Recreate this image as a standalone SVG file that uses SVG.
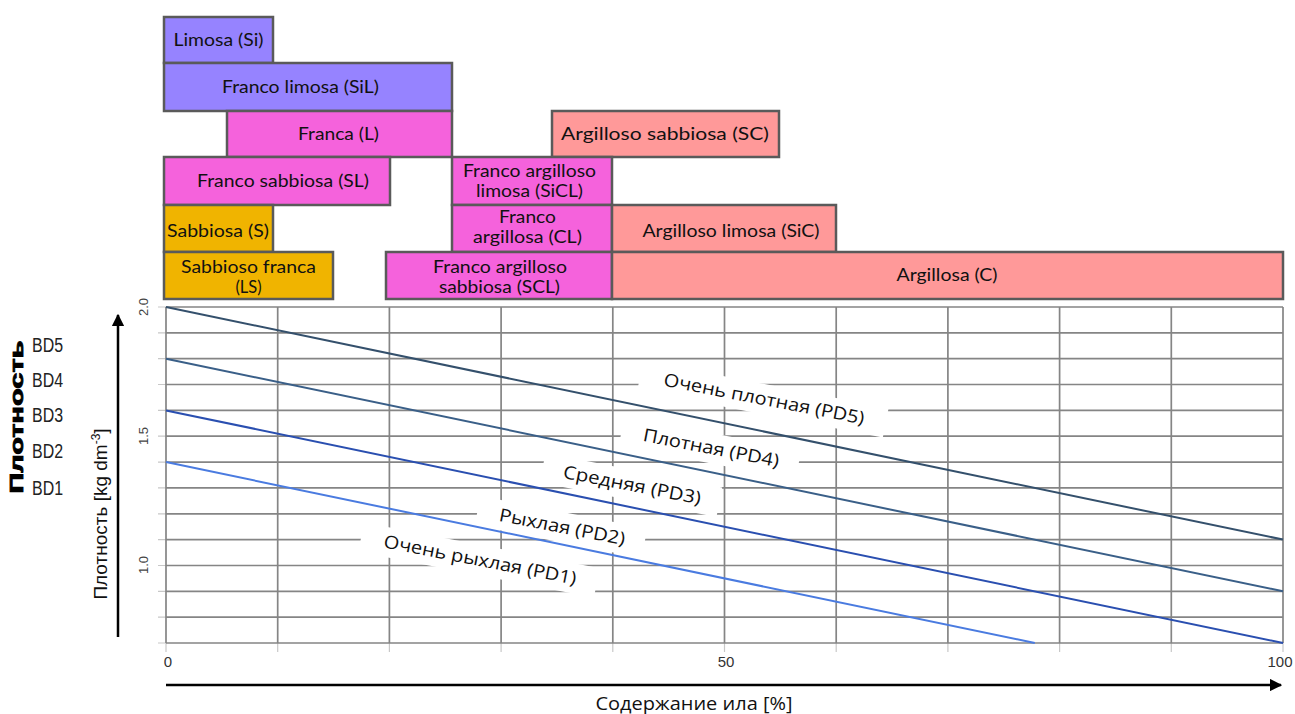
<svg xmlns="http://www.w3.org/2000/svg" width="1295" height="714" viewBox="0 0 1295 714">
<defs>
<style>
.box{stroke:#5a5a5a;stroke-width:2.5}
.si{fill:#9683ff}
.pk{fill:#f562dc}
.or{fill:#f0b400}
.cl{fill:#ff9999}
.bt{font-family:Lato,"Open Sans","Liberation Sans",sans-serif;font-size:17.5px;fill:#111;text-anchor:middle}
.bt2{font-family:Lato,"Open Sans","Liberation Sans",sans-serif;font-size:16.5px;fill:#111;text-anchor:middle}
.grid{stroke:#858585;stroke-width:1.7;fill:none}
.tick{stroke:#c8c8c8;stroke-width:1.2}
.lbl{font-family:"Open Sans","Liberation Sans",sans-serif;font-size:18px;fill:#111;text-anchor:middle}
.num{font-family:"Liberation Sans",Arial,sans-serif;font-size:13px;fill:#444;text-anchor:middle}
.xnum{font-family:"Liberation Sans",Arial,sans-serif;font-size:15px;fill:#333;text-anchor:middle}
.bd{font-family:"Liberation Sans",Arial,sans-serif;font-size:20px;fill:#222}
.ax{stroke:#000;stroke-width:2.5;fill:none}
</style>
<marker id="arr" viewBox="0 0 10 10" refX="9" refY="5" markerWidth="5" markerHeight="5" markerUnits="strokeWidth" orient="auto">
<path d="M0,0 L10,5 L0,10 Z" fill="#000"/>
</marker>
</defs>
<rect width="1295" height="714" fill="#fff"/>

<!-- texture boxes -->
<g id="Si"><rect class="box si" x="164" y="17" width="109" height="46"/><text class="bt" x="218.5" y="46" textLength="90" lengthAdjust="spacingAndGlyphs">Limosa (Si)</text></g>
<g id="SiL"><rect class="box si" x="164" y="63" width="288" height="48"/><text class="bt" x="300.5" y="93" textLength="157" lengthAdjust="spacingAndGlyphs">Franco limosa (SiL)</text></g>
<g id="L"><rect class="box pk" x="227" y="111" width="225" height="46"/><text class="bt" x="338.5" y="140" textLength="81" lengthAdjust="spacingAndGlyphs">Franca (L)</text></g>
<g id="SC"><rect class="box cl" x="552" y="111" width="227" height="46"/><text class="bt" x="665" y="140" textLength="208" lengthAdjust="spacingAndGlyphs">Argilloso sabbiosa (SC)</text></g>
<g id="SL"><rect class="box pk" x="164" y="157" width="226" height="48"/><text class="bt" x="283" y="187" textLength="172" lengthAdjust="spacingAndGlyphs">Franco sabbiosa (SL)</text></g>
<g id="SiCL"><rect class="box pk" x="452" y="157" width="160" height="48"/><text class="bt2" x="529.5" y="177" textLength="133" lengthAdjust="spacingAndGlyphs">Franco argilloso</text><text class="bt2" x="529.5" y="197" textLength="107" lengthAdjust="spacingAndGlyphs">limosa (SiCL)</text></g>
<g id="S"><rect class="box or" x="164" y="205" width="109" height="47"/><text class="bt" x="218" y="237" textLength="102" lengthAdjust="spacingAndGlyphs">Sabbiosa (S)</text></g>
<g id="CL"><rect class="box pk" x="452" y="205" width="160" height="47"/><text class="bt2" x="527.5" y="223" textLength="57" lengthAdjust="spacingAndGlyphs">Franco</text><text class="bt2" x="527.5" y="243" textLength="109" lengthAdjust="spacingAndGlyphs">argillosa (CL)</text></g>
<g id="SiC"><rect class="box cl" x="612" y="205" width="224" height="47"/><text class="bt" x="731" y="237" textLength="177" lengthAdjust="spacingAndGlyphs">Argilloso limosa (SiC)</text></g>
<g id="LS"><rect class="box or" x="164" y="252" width="169" height="47"/><text class="bt2" x="248.5" y="273" textLength="135" lengthAdjust="spacingAndGlyphs">Sabbioso franca</text><text class="bt2" x="248.5" y="293">(LS)</text></g>
<g id="SCL"><rect class="box pk" x="386" y="252" width="226" height="47"/><text class="bt2" x="500" y="273" textLength="134" lengthAdjust="spacingAndGlyphs">Franco argilloso</text><text class="bt2" x="499.5" y="293" textLength="121" lengthAdjust="spacingAndGlyphs">sabbiosa (SCL)</text></g>
<g id="C"><rect class="box cl" x="612" y="252" width="671" height="47"/><text class="bt" x="947" y="281" textLength="101" lengthAdjust="spacingAndGlyphs">Argillosa (C)</text></g>

<!-- grid -->
<g id="grid">
<g class="tick">
<path d="M158,307H166M158,332.8H166M158,358.7H166M158,384.5H166M158,410.4H166M158,436.2H166M158,462.1H166M158,487.9H166M158,513.8H166M158,539.6H166M158,565.5H166M158,591.3H166M158,617.2H166M158,643H166"/>
<path d="M166,643V652M277.7,643V652M389.4,643V652M501.1,643V652M612.8,643V652M724.5,643V652M836.2,643V652M947.9,643V652M1059.6,643V652M1171.3,643V652M1283,643V652"/>
</g>
<path class="grid" d="M166,307H1283M166,332.8H1283M166,358.7H1283M166,384.5H1283M166,410.4H1283M166,436.2H1283M166,462.1H1283M166,487.9H1283M166,513.8H1283M166,539.6H1283M166,565.5H1283M166,591.3H1283M166,617.2H1283M166,643H1283"/>
<path class="grid" d="M166,307V643M277.7,307V643M389.4,307V643M501.1,307V643M612.8,307V643M724.5,307V643M836.2,307V643M947.9,307V643M1059.6,307V643M1171.3,307V643M1283,307V643"/>
</g>

<!-- label backgrounds -->
<g id="label-bg" fill="#fff">
<rect x="-125" y="-15" width="250" height="30" transform="translate(763,399) rotate(11)"/>
<rect x="-90" y="-15" width="180" height="30" transform="translate(710,448) rotate(11)"/>
<rect x="-90" y="-15" width="180" height="30" transform="translate(631,485) rotate(11)"/>
<rect x="-85" y="-15" width="170" height="30" transform="translate(561,527) rotate(11)"/>
<rect x="-120" y="-15" width="240" height="30" transform="translate(479,560) rotate(11)"/>
</g>

<!-- density lines -->
<g id="connectors" fill="none" stroke-width="2">
<line x1="166" y1="307" x2="1283" y2="539.6" stroke="#34506c"/>
<line x1="166" y1="358.7" x2="1283" y2="591.3" stroke="#3a5f88"/>
<line x1="166" y1="410.4" x2="1283" y2="643" stroke="#2a4fb0"/>
<line x1="166" y1="462.1" x2="1034.8" y2="643" stroke="#4a7be0"/>
</g>

<!-- line labels -->
<g id="labels">
<text class="lbl" transform="translate(763,405) rotate(11)" textLength="204" lengthAdjust="spacingAndGlyphs">Очень плотная (PD5)</text>
<text class="lbl" transform="translate(710,454) rotate(11)" textLength="138" lengthAdjust="spacingAndGlyphs">Плотная (PD4)</text>
<text class="lbl" transform="translate(631,491) rotate(11)" textLength="140" lengthAdjust="spacingAndGlyphs">Средняя (PD3)</text>
<text class="lbl" transform="translate(561,533) rotate(11)" textLength="128" lengthAdjust="spacingAndGlyphs">Рыхлая (PD2)</text>
<text class="lbl" transform="translate(479,566) rotate(11)" textLength="196" lengthAdjust="spacingAndGlyphs">Очень рыхлая (PD1)</text>
</g>

<!-- axes numbers -->
<g id="ticks">
<text class="num" transform="translate(148,307) rotate(-90)">2.0</text>
<text class="num" transform="translate(148,436) rotate(-90)">1.5</text>
<text class="num" transform="translate(148,565) rotate(-90)">1.0</text>
<text class="xnum" x="168" y="667">0</text>
<text class="xnum" x="726" y="667">50</text>
<text class="xnum" x="1280" y="667">100</text>
</g>

<!-- axes -->
<g id="axes">
<line class="ax" x1="166" y1="685" x2="1281" y2="685" marker-end="url(#arr)"/>
<line class="ax" x1="118" y1="637" x2="118" y2="315" marker-end="url(#arr)"/>
<text x="694" y="710" font-family="'Open Sans','Liberation Sans',sans-serif" font-size="19" fill="#111" text-anchor="middle" textLength="197" lengthAdjust="spacingAndGlyphs">Содержание ила [%]</text>
<text transform="translate(107,514) rotate(-90)" font-family="'Liberation Sans',Arial,sans-serif" font-size="19" fill="#111" text-anchor="middle">Плотность [kg dm<tspan font-size="12" dy="-7">-3</tspan><tspan dy="7">]</tspan></text>
</g>

<!-- left legend -->
<g id="bd-legend">
<text transform="translate(23,417) rotate(-90)" font-family="'Liberation Sans',Arial,sans-serif" font-size="18" font-weight="bold" fill="#000" text-anchor="middle" textLength="153" lengthAdjust="spacingAndGlyphs" stroke="#000" stroke-width="0.8">Плотность</text>
<text class="bd" x="32" y="352" textLength="31" lengthAdjust="spacingAndGlyphs">BD5</text>
<text class="bd" x="32" y="387" textLength="31" lengthAdjust="spacingAndGlyphs">BD4</text>
<text class="bd" x="32" y="422" textLength="31" lengthAdjust="spacingAndGlyphs">BD3</text>
<text class="bd" x="32" y="458" textLength="31" lengthAdjust="spacingAndGlyphs">BD2</text>
<text class="bd" x="32" y="495" textLength="31" lengthAdjust="spacingAndGlyphs">BD1</text>
</g>
</svg>
